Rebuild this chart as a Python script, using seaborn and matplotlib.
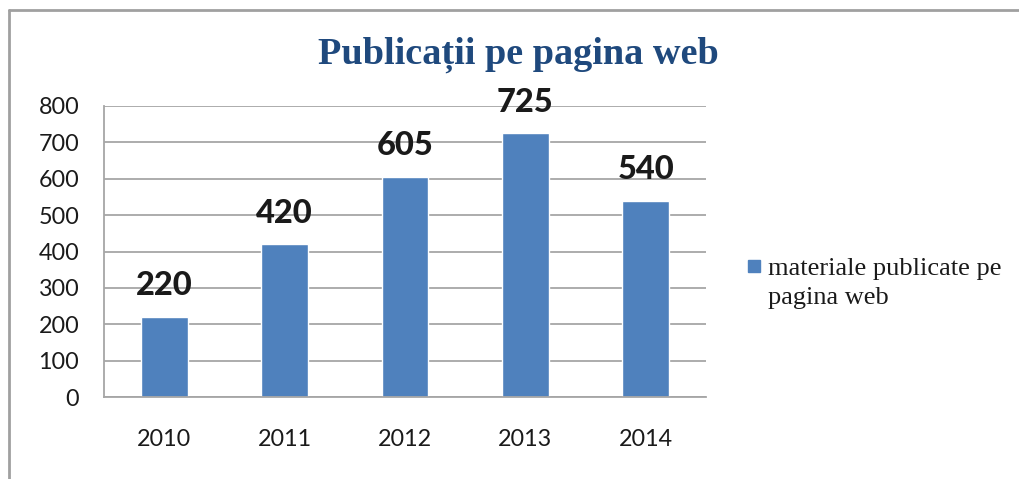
import numpy as np
import pandas as pd
import matplotlib
matplotlib.use("Agg")
import matplotlib.pyplot as plt
from matplotlib.lines import Line2D
import seaborn as sns

years = ["2010", "2011", "2012", "2013", "2014"]
values = [220, 420, 605, 725, 540]
series_name = "materiale publicate pe\npagina web"
title = "Publicații pe pagina web"

df = pd.DataFrame({"an": years, "valoare": values})

sns.set_style("white")
plt.rcParams["font.family"] = ["Lato", "DejaVu Sans"]
serif = ["Liberation Serif", "DejaVu Serif"]

fig = plt.figure(figsize=(10.19, 4.79), dpi=100)
ax = fig.add_axes([104/1019, 1 - 397/479, (706-104)/1019, (397-106)/479])

sns.barplot(data=df, x="an", y="valoare", color="#4F81BD", width=0.39,
            saturation=1, ax=ax)

ax.set_ylim(0, 800)
ax.set_yticks(range(0, 801, 100))
ax.set_xlim(-0.5, len(years) - 0.5)
ax.yaxis.grid(True, color="#A6A6A6", linewidth=1.3)
ax.set_axisbelow(True)
ax.set_xlabel("")
ax.set_ylabel("")

for s in ["top", "right"]:
    ax.spines[s].set_visible(False)
for s in ["left", "bottom"]:
    ax.spines[s].set_color("#A6A6A6")
    ax.spines[s].set_linewidth(1.3)

ax.tick_params(axis="y", length=5.8, width=1.3, color="#A6A6A6",
               labelsize=16.8, labelcolor="#1a1a1a", pad=12)
ax.tick_params(axis="x", which="major", length=0, labelsize=16.8,
               labelcolor="#1a1a1a", pad=23)
ax.set_xticks(np.arange(-0.5, len(years), 1), minor=True)
ax.tick_params(axis="x", which="minor", length=4.3, width=1.3, color="#A6A6A6")

for c in ax.containers:
    ax.bar_label(c, labels=[str(v) for v in values], padding=12,
                 fontsize=23.5, fontweight="black", color="#1a1a1a")

fig.text(518/1019, 1 - 55/479, title, ha="center", va="center",
         fontsize=27.5, fontweight="bold", color="#1F497D", family=serif)

# legend: marker sits next to the first line of the wrapped series name
first_line, second_line = series_name.split("\n")
handle = Line2D([], [], marker="s", linestyle="none", markersize=9,
                markerfacecolor="#4F81BD", markeredgecolor="#4F81BD")
leg = fig.legend([handle], [first_line], loc="center left",
                 bbox_to_anchor=(746/1019, 1 - 268/479), frameon=False,
                 handlelength=0.6, handletextpad=0.25, borderpad=0,
                 borderaxespad=0, prop={"family": serif, "size": 19})
fig.canvas.draw()
tb = leg.get_texts()[0].get_window_extent()
fig.text(tb.x0 / fig.bbox.width, 1 - 298/479, second_line, ha="left",
         va="center", family=serif, fontsize=19, color="#1a1a1a")
leg.get_texts()[0].set_color("#1a1a1a")

# chart border (top and left sides visible)
fig.add_artist(Line2D([9/1019, 9/1019], [0, 1 - 10/479], color="#A0A0A0",
                      linewidth=2, transform=fig.transFigure))
fig.add_artist(Line2D([9/1019, 1], [1 - 10/479, 1 - 10/479], color="#A0A0A0",
                      linewidth=2, transform=fig.transFigure))

fig.savefig("out.png", dpi=100)
